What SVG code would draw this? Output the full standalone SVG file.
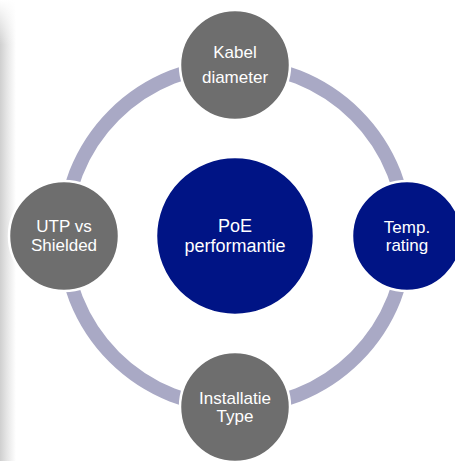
<svg xmlns="http://www.w3.org/2000/svg" width="455" height="461" viewBox="0 0 455 461">
<defs>
<linearGradient id="edge" x1="0" y1="0" x2="1" y2="0">
<stop offset="0" stop-color="#cfcfcf"/>
<stop offset="0.4" stop-color="#e4e4e4"/>
<stop offset="1" stop-color="#ffffff"/>
</linearGradient>
<linearGradient id="fadeTop" x1="0" y1="0" x2="0" y2="1">
<stop offset="0" stop-color="#ffffff" stop-opacity="1"/>
<stop offset="1" stop-color="#ffffff" stop-opacity="0"/>
</linearGradient>
<style>
.gray{fill:#6e6e6e;stroke:#ffffff;stroke-width:2.5}
.navy{fill:#001485;stroke:#ffffff;stroke-width:2.5}
.lbl{font-family:"Liberation Sans",Arial,sans-serif;font-size:17px;fill:#ffffff;text-anchor:middle}
.big{font-size:18px}
</style>
</defs>
<rect width="455" height="461" fill="#ffffff"/>
<rect x="0" y="0" width="16" height="461" fill="url(#edge)"/>
<rect x="0" y="0" width="16" height="45" fill="url(#fadeTop)"/>
<g id="connectors">
<circle cx="235" cy="236" r="171" fill="none" stroke="#a9a9c5" stroke-width="14"/>
</g>
<g id="center">
<circle class="navy" cx="235" cy="236" r="79"/>
<text class="lbl big" x="235" y="232">PoE</text>
<text class="lbl big" x="235" y="252">performantie</text>
</g>
<g id="top">
<circle class="gray" cx="235" cy="65" r="55"/>
<text class="lbl" x="235" y="58">Kabel</text>
<text class="lbl" x="235" y="83">diameter</text>
</g>
<g id="right">
<circle class="navy" cx="407" cy="236" r="55"/>
<text class="lbl" x="407" y="233">Temp.</text>
<text class="lbl" x="407" y="251">rating</text>
</g>
<g id="bottom">
<circle class="gray" cx="235" cy="407" r="55"/>
<text class="lbl" x="235" y="404">Installatie</text>
<text class="lbl" x="235" y="422">Type</text>
</g>
<g id="left">
<circle class="gray" cx="64" cy="236" r="55"/>
<text class="lbl" x="64" y="232">UTP vs</text>
<text class="lbl" x="64" y="251">Shielded</text>
</g>
</svg>
